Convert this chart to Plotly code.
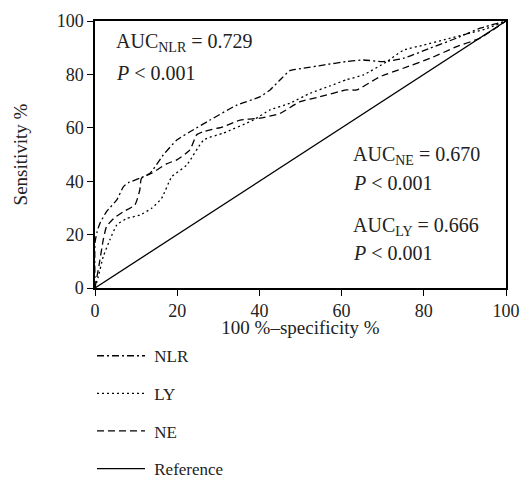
import plotly.graph_objects as go

nlr_x = [0, 0, 0.5, 1.2, 2.8, 5.3, 6.9, 8.1, 10.9, 13.4, 16.6, 19.9, 23.1, 28, 34.5, 40.1, 42.6, 45, 47.4, 50.7, 55.5, 61.2, 65.3, 70.1, 75, 81.5, 88, 93.7, 100]
nlr_y = [0, 17, 21, 24.2, 28.6, 33, 37.9, 39.4, 41.1, 43, 49.8, 55.4, 58.5, 62.9, 68.5, 71.6, 74.2, 77.9, 81.4, 82.3, 83.5, 84.8, 85.4, 84.8, 86, 89.8, 93.6, 97.3, 100]

ly_x = [0, 0.8, 2, 3.6, 5.3, 7.7, 10.9, 13.8, 16.2, 18.7, 22.3, 26.5, 31.2, 38.5, 42.6, 47.4, 52.3, 57.2, 61.2, 65.3, 71, 75, 80, 85, 90, 95, 100]
ly_y = [0, 4.2, 11.7, 18, 23.6, 26, 27.3, 29.9, 33.6, 41.7, 46, 55.5, 58, 62.9, 66.7, 69.2, 72.9, 75.7, 78, 79.8, 84.8, 89, 91, 93, 95, 97, 100]

ne_x = [0, 1.2, 2, 2.8, 4.5, 6.9, 9.7, 10.9, 11.3, 13.8, 17.4, 19.9, 23.1, 24.7, 26.3, 31.2, 35.3, 40.1, 45, 49.9, 54.7, 61.2, 63.7, 69.3, 75, 81.5, 88, 93.7, 100]
ne_y = [0, 10.5, 18, 23, 26, 28.6, 31.1, 36.7, 41.1, 43, 46.5, 48, 51.7, 57.3, 58.5, 60.4, 62.9, 63.6, 65.4, 69.8, 71.6, 74.2, 74.2, 79.1, 82.3, 86, 90.4, 93.6, 100]

ref_x = [0, 100]
ref_y = [0, 100]

ticks = [0, 20, 40, 60, 80, 100]

FONT = "Liberation Serif"
TXT = "#222"
SP = "\u00a0"

fig = go.Figure()
fig.add_trace(go.Scatter(x=nlr_x, y=nlr_y, mode="lines", name=SP + "NLR", legendgroup="a",
                         line=dict(color="black", width=1.3, dash="7px,3px,2px,3px", shape="spline", smoothing=0.5)))
fig.add_trace(go.Scatter(x=ly_x, y=ly_y, mode="lines", name=SP + "LY", legendgroup="b",
                         line=dict(color="black", width=1.3, dash="2px,3px", shape="spline", smoothing=0.5)))
fig.add_trace(go.Scatter(x=ne_x, y=ne_y, mode="lines", name=SP + "NE", legendgroup="c",
                         line=dict(color="black", width=1.3, dash="7px,4px", shape="spline", smoothing=0.5)))
fig.add_trace(go.Scatter(x=ref_x, y=ref_y, mode="lines", name=SP + "Reference", legendgroup="d",
                         line=dict(color="black", width=1.3)))

annots = [
    (4.6, 92.1, "AUC<sub>NLR</sub> = 0.729"),
    (4.6, 80.5, "<i>P</i> < 0.001"),
    (62.3, 49.8, "AUC<sub>NE</sub> = 0.670"),
    (62.3, 39.3, "<i>P</i> < 0.001"),
    (62.3, 23.2, "AUC<sub>LY</sub> = 0.666"),
    (62.3, 13.1, "<i>P</i> < 0.001"),
]
for ax, ay, t in annots:
    fig.add_annotation(x=ax, y=ay, text=t, showarrow=False, xanchor="left", yanchor="middle",
                       font=dict(family=FONT, size=20, color=TXT))

axis_common = dict(range=[0, 100], tickvals=ticks, ticks="outside", ticklen=6, tickwidth=1.3,
                   tickcolor="black", showline=True, linecolor="black", linewidth=1.5, mirror=True,
                   showgrid=False, zeroline=False, automargin=False,
                   tickfont=dict(family=FONT, size=18, color=TXT))

fig.update_xaxes(**axis_common, title=dict(text="100 %–specificity %", font=dict(family=FONT, size=19, color=TXT), standoff=4))
fig.update_yaxes(**axis_common, title=dict(text="Sensitivity %", font=dict(family=FONT, size=19, color=TXT), standoff=24))

fig.update_layout(
    width=521, height=492,
    margin=dict(l=95, r=15, t=21, b=204),
    plot_bgcolor="white", paper_bgcolor="white",
    showlegend=True,
    legend=dict(x=-0.0073, y=0.3126, xanchor="left", yanchor="top", yref="container", tracegroupgap=12.5,
                itemwidth=48,
                font=dict(family=FONT, size=17, color=TXT), bgcolor="rgba(0,0,0,0)"),
    font=dict(family=FONT),
)

fig.write_html("out.html", config={"displayModeBar": False},
               post_script="document.body.style.margin='0';document.body.style.overflow='hidden';")
